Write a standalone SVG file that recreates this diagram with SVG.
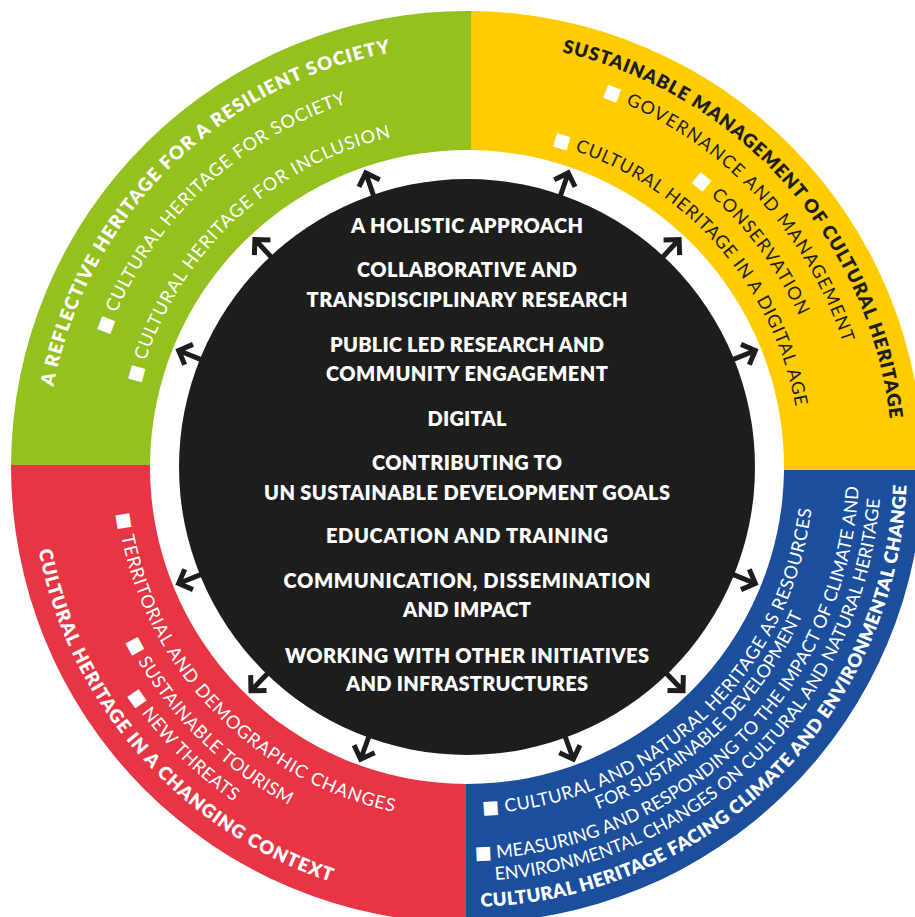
<svg xmlns="http://www.w3.org/2000/svg" width="915" height="917" viewBox="0 0 915 917">
<defs>
<style>
.b{font-family:Lato,"DejaVu Sans",sans-serif;font-weight:800;}
.l{font-family:Lato,"DejaVu Sans",sans-serif;font-weight:400;}
.ttl{font-size:18.5px;}
.itm{font-size:18px;}
.ctr{font-size:20px;fill:#ffffff;text-anchor:middle;}
.w{fill:#ffffff;}
.k{fill:#1d1d1b;}
.arr{fill:none;stroke:#1d1d1b;stroke-width:5;stroke-linejoin:miter;}
</style>
<path id="pGt" d="M 48.64,415.63 A 421.5 421.5 0 0 1 419.29,48.21"/>
<path id="pG1" d="M 99.21,360.15 A 383 383 0 0 1 372.40,95.87"/>
<path id="pG2" d="M 133.95,406.48 A 338.5 338.5 0 0 1 414.05,132.67"/>
<path id="pYt" d="M 532.83,46.62 A 425.5 425.5 0 0 1 892.10,448.44"/>
<path id="pY1" d="M 576.81,86.53 A 396 396 0 0 1 850.73,369.19"/>
<path id="pY2" d="M 671.88,165.53 A 364.5 364.5 0 0 1 808.42,339.35"/>
<path id="pY3" d="M 530.16,139.03 A 334 334 0 0 1 798.85,429.19"/>
<path id="pRt" d="M 33.75,520.20 A 436.5 436.5 0 0 0 359.92,890.16"/>
<path id="pR1" d="M 115.19,489.13 A 352.5 352.5 0 0 0 417.94,816.07"/>
<path id="pR2" d="M 115.63,616.87 A 382 382 0 0 0 312.84,816.51"/>
<path id="pR3" d="M 113.30,670.38 A 408 408 0 0 0 257.49,817.10"/>
<path id="pBt" d="M 450.11,906.67 A 440 440 0 0 0 906.83,454.71"/>
<path id="pB1" d="M 458.52,813.90 A 347 347 0 0 0 813.52,485.16"/>
<path id="pB1b" d="M 573.54,817.67 A 366.5 366.5 0 0 0 812.05,590.55"/>
<path id="pB2" d="M 447.85,858.53 A 392 392 0 0 0 858.93,459.47"/>
<path id="pB2b" d="M 466.28,881.0 A 414 414 0 0 0 880.99,469.89"/>
<path id="arrow" class="arr" d="M0,-282 L0,-311 M-11,-300 L0,-311 L11,-300"/>
</defs>
<rect width="915" height="917" fill="#ffffff"/>

<g id="green-quadrant">
<path d="M 11,465 A 456 456 0 0 1 471,11 L 471,150 A 317 317 0 0 0 150,465 Z" fill="#95c11f"/>
<text class="b ttl w"><textPath href="#pGt" startOffset="50%" text-anchor="middle" textLength="504" lengthAdjust="spacing">A REFLECTIVE HERITAGE FOR A RESILIENT SOCIETY</textPath></text>
<text class="l itm w"><textPath href="#pG1" startOffset="50%" text-anchor="middle" textLength="344" lengthAdjust="spacing">■ CULTURAL HERITAGE FOR SOCIETY</textPath></text>
<text class="l itm w"><textPath href="#pG2" startOffset="50%" text-anchor="middle" textLength="370" lengthAdjust="spacing">■ CULTURAL HERITAGE FOR INCLUSION</textPath></text>
</g>

<g id="yellow-quadrant">
<path d="M 471,11 A 456 456 0 0 1 923,470 L 784,470 A 317 317 0 0 0 471,150 Z" fill="#ffcc00"/>
<text class="b ttl k"><textPath href="#pYt" startOffset="50%" text-anchor="middle" textLength="524" lengthAdjust="spacing">SUSTAINABLE MANAGEMENT OF CULTURAL HERITAGE</textPath></text>
<text class="l itm k"><textPath href="#pY1" startOffset="50%" text-anchor="middle" textLength="357" lengthAdjust="spacing"><tspan class="w">■</tspan> GOVERNANCE AND MANAGEMENT</textPath></text>
<text class="l itm k"><textPath href="#pY2" startOffset="50%" text-anchor="middle" textLength="174" lengthAdjust="spacing"><tspan class="w">■</tspan> CONSERVATION</textPath></text>
<text class="l itm k"><textPath href="#pY3" startOffset="50%" text-anchor="middle" textLength="377" lengthAdjust="spacing"><tspan class="w">■</tspan> CULTURAL HERITAGE IN A DIGITAL AGE</textPath></text>
</g>

<g id="red-quadrant">
<path d="M 466,923 A 456 456 0 0 1 11,465 L 150,465 A 317 317 0 0 0 466,784 Z" fill="#e73544"/>
<text class="b ttl w"><textPath href="#pRt" startOffset="50%" text-anchor="middle" textLength="463" lengthAdjust="spacing">CULTURAL HERITAGE IN A CHANGING CONTEXT</textPath></text>
<text class="l itm w"><textPath href="#pR1" startOffset="50%" text-anchor="middle" textLength="433" lengthAdjust="spacing">■ TERRITORIAL AND DEMOGRAPHIC CHANGES</textPath></text>
<text class="l itm w"><textPath href="#pR2" startOffset="50%" text-anchor="middle" textLength="234" lengthAdjust="spacing">■ SUSTAINABLE TOURISM</textPath></text>
<text class="l itm w"><textPath href="#pR3" startOffset="50%" text-anchor="middle" textLength="151" lengthAdjust="spacing">■ NEW THREATS</textPath></text>
</g>

<g id="blue-quadrant">
<path d="M 923,470 A 456 456 0 0 1 466,923 L 466,784 A 317 317 0 0 0 784,470 Z" fill="#1b4f9e"/>
<text class="b ttl w"><textPath href="#pBt" startOffset="50%" text-anchor="middle" textLength="659" lengthAdjust="spacing">CULTURAL HERITAGE FACING CLIMATE AND ENVIRONMENTAL CHANGE</textPath></text>
<text class="l itm w"><textPath href="#pB1" startOffset="50%" text-anchor="middle" textLength="487" lengthAdjust="spacing">■ CULTURAL AND NATURAL HERITAGE AS RESOURCES</textPath></text>
<text class="l itm w"><textPath href="#pB1b" startOffset="50%" text-anchor="middle" textLength="290" lengthAdjust="spacing">FOR SUSTAINABLE DEVELOPMENT</textPath></text>
<text class="l itm w"><textPath href="#pB2" startOffset="50%" text-anchor="middle" textLength="588" lengthAdjust="spacing">■ MEASURING AND RESPONDING TO THE IMPACT OF CLIMATE AND</textPath></text>
<text class="l itm w"><textPath href="#pB2b" startOffset="50%" text-anchor="middle" textLength="590" lengthAdjust="spacing">ENVIRONMENTAL CHANGES ON CULTURAL AND NATURAL HERITAGE</textPath></text>
</g>

<g id="center">
<circle cx="467" cy="467" r="288" fill="#1d1d1b"/>
<text class="b ctr" x="467" y="233" textLength="232" lengthAdjust="spacing">A HOLISTIC APPROACH</text>
<text class="b ctr" x="467" y="277" textLength="220" lengthAdjust="spacing">COLLABORATIVE AND</text>
<text class="b ctr" x="467" y="307" textLength="321" lengthAdjust="spacing">TRANSDISCIPLINARY RESEARCH</text>
<text class="b ctr" x="467" y="352" textLength="274" lengthAdjust="spacing">PUBLIC LED RESEARCH AND</text>
<text class="b ctr" x="467" y="381" textLength="282" lengthAdjust="spacing">COMMUNITY ENGAGEMENT</text>
<text class="b ctr" x="467" y="426" textLength="79" lengthAdjust="spacing">DIGITAL</text>
<text class="b ctr" x="467" y="470" textLength="190" lengthAdjust="spacing">CONTRIBUTING TO</text>
<text class="b ctr" x="467" y="500" textLength="406" lengthAdjust="spacing">UN SUSTAINABLE DEVELOPMENT GOALS</text>
<text class="b ctr" x="467" y="543" textLength="282" lengthAdjust="spacing">EDUCATION AND TRAINING</text>
<text class="b ctr" x="467" y="588" textLength="367" lengthAdjust="spacing">COMMUNICATION, DISSEMINATION</text>
<text class="b ctr" x="467" y="617" textLength="128" lengthAdjust="spacing">AND IMPACT</text>
<text class="b ctr" x="467" y="663" textLength="364" lengthAdjust="spacing">WORKING WITH OTHER INITIATIVES</text>
<text class="b ctr" x="467" y="691" textLength="242" lengthAdjust="spacing">AND INFRASTRUCTURES</text>
</g>

<g id="connectors" transform="translate(467 467)">
<use href="#arrow" transform="rotate(-19)"/>
<use href="#arrow" transform="rotate(19)"/>
<use href="#arrow" transform="rotate(-43)"/>
<use href="#arrow" transform="rotate(43)"/>
<use href="#arrow" transform="rotate(-68)"/>
<use href="#arrow" transform="rotate(68)"/>
<use href="#arrow" transform="rotate(-112)"/>
<use href="#arrow" transform="rotate(112)"/>
<use href="#arrow" transform="rotate(-136)"/>
<use href="#arrow" transform="rotate(136)"/>
<use href="#arrow" transform="rotate(-160)"/>
<use href="#arrow" transform="rotate(160)"/>
</g>
</svg>
